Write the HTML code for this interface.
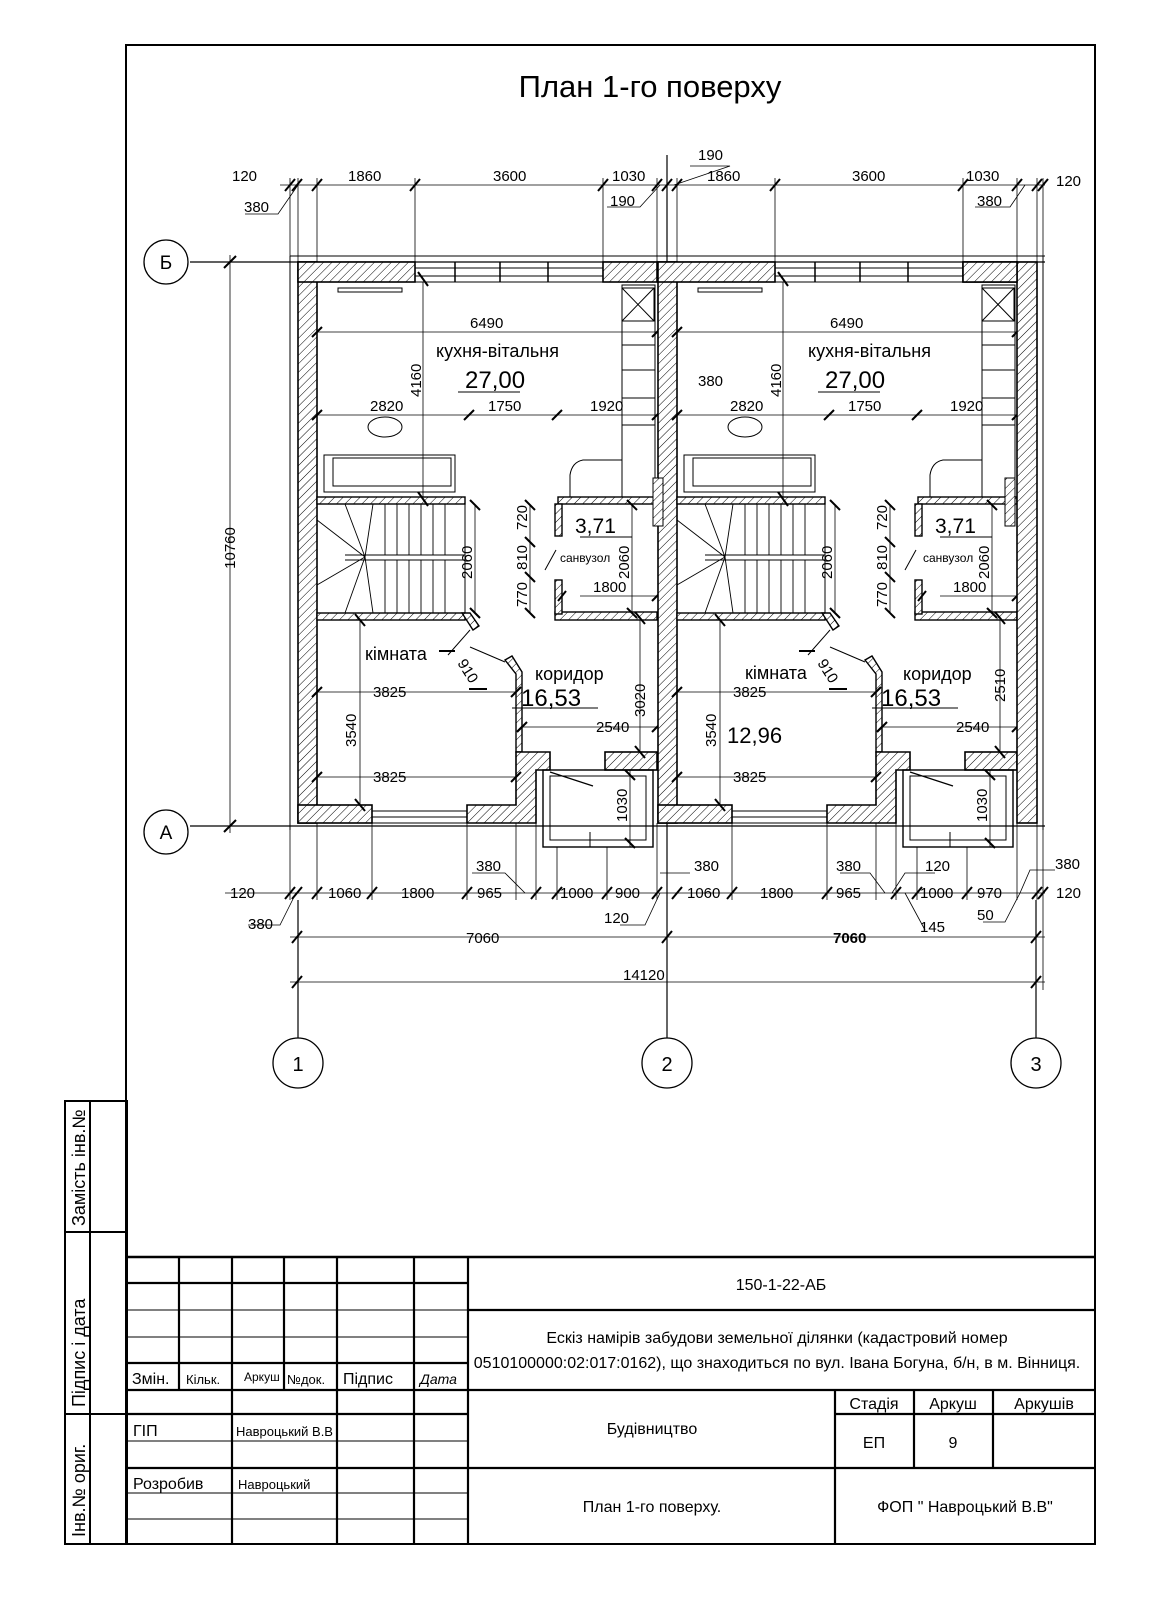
<!DOCTYPE html>
<html><head><meta charset="utf-8"><style>
html,body{margin:0;padding:0;background:#fff}
svg{display:block}
text{font-family:"Liberation Sans","DejaVu Sans",sans-serif;fill:#000}
</style></head><body>
<svg width="1160" height="1600" viewBox="0 0 1160 1600" xmlns="http://www.w3.org/2000/svg">
<defs>
<pattern id="h" patternUnits="userSpaceOnUse" width="6" height="6" patternTransform="rotate(45)">
<rect width="6" height="6" fill="#fff"/><line x1="0" y1="0" x2="0" y2="6" stroke="#000" stroke-width="1"/>
</pattern>
<g id="unit" stroke="#000" fill="none" stroke-width="1">
<rect x="298" y="262" width="19" height="561" fill="url(#h)" stroke-width="1.6"/>
<rect x="298" y="262" width="117" height="20" fill="url(#h)" stroke-width="1.6"/>
<rect x="603" y="262" width="54" height="20" fill="url(#h)" stroke-width="1.6"/>
<line x1="415" y1="268" x2="603" y2="268"/><line x1="415" y1="276" x2="603" y2="276"/><line x1="415" y1="282" x2="603" y2="282"/>
<line x1="455" y1="262" x2="455" y2="282" stroke-width="1.5"/><line x1="500" y1="262" x2="500" y2="282" stroke-width="1.5"/><line x1="548" y1="262" x2="548" y2="282" stroke-width="1.5"/>
<rect x="317" y="497" width="148" height="7" fill="url(#h)" stroke-width="1.4"/>
<rect x="558" y="497" width="99" height="7" fill="url(#h)" stroke-width="1.4"/>
<rect x="317" y="613" width="148" height="7" fill="url(#h)" stroke-width="1.4"/>
<rect x="555" y="612" width="102" height="8" fill="url(#h)" stroke-width="1.4"/>
<rect x="555" y="504" width="7" height="32" fill="url(#h)" stroke-width="1.4"/>
<rect x="555" y="580" width="7" height="34" fill="url(#h)" stroke-width="1.4"/>
<rect x="317" y="504" width="148" height="109"/>
<line x1="345" y1="560" x2="465" y2="560"/>
<line x1="345" y1="555" x2="465" y2="555"/>
<g stroke-width="0.9">
<line x1="385" y1="504" x2="385" y2="555"/><line x1="397" y1="504" x2="397" y2="555"/><line x1="409" y1="504" x2="409" y2="555"/><line x1="421" y1="504" x2="421" y2="555"/><line x1="433" y1="504" x2="433" y2="555"/><line x1="445" y1="504" x2="445" y2="555"/>
<line x1="385" y1="560" x2="385" y2="613"/><line x1="397" y1="560" x2="397" y2="613"/><line x1="409" y1="560" x2="409" y2="613"/><line x1="421" y1="560" x2="421" y2="613"/><line x1="433" y1="560" x2="433" y2="613"/><line x1="445" y1="560" x2="445" y2="613"/>
<line x1="365" y1="557" x2="317" y2="520"/><line x1="365" y1="557" x2="345" y2="504"/><line x1="365" y1="557" x2="373" y2="504"/><line x1="365" y1="557" x2="317" y2="585"/><line x1="365" y1="557" x2="345" y2="613"/><line x1="365" y1="557" x2="373" y2="613"/>
</g>
<polygon points="462,613 470,613 479,626 473,630" fill="url(#h)" stroke-width="1.4"/>
<line x1="470" y1="630" x2="448" y2="655"/>
<polygon points="505,660 512,656 522,672 522,752 516,752 516,674" fill="url(#h)" stroke-width="1.4"/>
<line x1="470" y1="647" x2="505" y2="662"/>
<rect x="298" y="805" width="74" height="18" fill="url(#h)" stroke-width="1.6"/>
<line x1="372" y1="811" x2="467" y2="811"/><line x1="372" y1="817" x2="467" y2="817"/><line x1="372" y1="823" x2="467" y2="823"/>
<polygon points="467,805 516,805 516,752 550,752 550,770 536,770 536,823 467,823" fill="url(#h)" stroke-width="1.6"/>
<rect x="605" y="752" width="52" height="18" fill="url(#h)" stroke-width="1.6"/>
<rect x="543" y="770" width="110" height="77" stroke-width="1.4"/>
<rect x="550" y="776" width="96" height="64"/>
<line x1="550" y1="772" x2="593" y2="786" stroke-width="1.2"/>
<line x1="590" y1="832" x2="590" y2="847"/>
<rect x="338" y="288" width="64" height="4"/>
<ellipse cx="385" cy="427" rx="17" ry="10"/>
<rect x="324" y="455" width="131" height="37"/><rect x="333" y="458" width="118" height="28"/>
<rect x="622" y="285" width="33" height="212"/>
<rect x="622" y="288" width="32" height="33"/><line x1="622" y1="288" x2="654" y2="321"/><line x1="654" y1="288" x2="622" y2="321"/>
<line x1="622" y1="345" x2="655" y2="345"/><line x1="622" y1="370" x2="655" y2="370"/><line x1="622" y1="398" x2="655" y2="398"/><line x1="622" y1="425" x2="655" y2="425"/>
<path d="M622,460 L583,460 Q572,462 570,475 L570,497"/>
<line x1="556" y1="550" x2="545" y2="570"/>
<g stroke-width="0.8">
<line x1="317" y1="332" x2="657" y2="332"/>
<line x1="317" y1="415" x2="657" y2="415"/>
<line x1="423" y1="282" x2="423" y2="497"/>
<line x1="317" y1="692" x2="516" y2="692"/>
<line x1="317" y1="777" x2="516" y2="777"/>
<line x1="360" y1="620" x2="360" y2="805"/>
<line x1="522" y1="727" x2="657" y2="727"/>
<line x1="640" y1="620" x2="640" y2="752"/>
<line x1="580" y1="596" x2="657" y2="596"/>
<line x1="530" y1="504" x2="530" y2="612"/>
<line x1="475" y1="504" x2="475" y2="612"/>
<line x1="632" y1="504" x2="632" y2="612"/>
<line x1="630" y1="770" x2="630" y2="847"/>
</g>
<g stroke-width="2">
<line x1="312" y1="337" x2="322" y2="327"/><line x1="652" y1="337" x2="662" y2="327"/>
<line x1="312" y1="420" x2="322" y2="410"/><line x1="464" y1="420" x2="474" y2="410"/><line x1="552" y1="420" x2="562" y2="410"/><line x1="652" y1="420" x2="662" y2="410"/>
<line x1="418" y1="272" x2="428" y2="286"/><line x1="418" y1="492" x2="428" y2="506"/>
<line x1="312" y1="697" x2="322" y2="687"/><line x1="511" y1="697" x2="521" y2="687"/>
<line x1="312" y1="782" x2="322" y2="772"/><line x1="511" y1="782" x2="521" y2="772"/>
<line x1="355" y1="614" x2="365" y2="626"/><line x1="355" y1="799" x2="365" y2="811"/>
<line x1="517" y1="732" x2="527" y2="722"/><line x1="652" y1="732" x2="662" y2="722"/>
<line x1="635" y1="612" x2="645" y2="624"/><line x1="635" y1="746" x2="645" y2="758"/>
<line x1="525" y1="500" x2="535" y2="510"/><line x1="525" y1="537" x2="535" y2="547"/><line x1="525" y1="572" x2="535" y2="582"/><line x1="525" y1="608" x2="535" y2="618"/>
<line x1="470" y1="500" x2="480" y2="510"/><line x1="470" y1="608" x2="480" y2="618"/>
<line x1="627" y1="500" x2="637" y2="510"/><line x1="627" y1="608" x2="637" y2="618"/>
<line x1="558" y1="601" x2="566" y2="591"/><line x1="652" y1="601" x2="662" y2="591"/>
<line x1="625" y1="770" x2="635" y2="780"/><line x1="625" y1="838" x2="635" y2="848"/>
<line x1="439" y1="651" x2="455" y2="651"/><line x1="469" y1="689" x2="487" y2="689"/>
</g>
<line x1="458" y1="392" x2="520" y2="392"/>
<line x1="580" y1="537" x2="632" y2="537"/>
<line x1="512" y1="708" x2="598" y2="708"/>
</g>
</defs>

<rect x="126" y="45" width="969" height="1499" fill="none" stroke="#000" stroke-width="2"/>
<text x="650" y="97" font-size="31" text-anchor="middle">План 1-го поверху</text>

<g stroke="#000" fill="none">
<line x1="190" y1="262" x2="1045" y2="262" stroke-width="1.3"/>
<line x1="190" y1="826" x2="1045" y2="826" stroke-width="1.3"/>
<circle cx="166" cy="262" r="22" fill="#fff" stroke-width="1.3"/>
<circle cx="166" cy="832" r="22" fill="#fff" stroke-width="1.3"/>
<line x1="230" y1="255" x2="230" y2="833" stroke-width="0.8"/>
<line x1="224" y1="268" x2="236" y2="256" stroke-width="2"/><line x1="224" y1="832" x2="236" y2="820" stroke-width="2"/>
<line x1="298" y1="900" x2="298" y2="1038" stroke-width="1.2"/>
<line x1="667" y1="155" x2="667" y2="1038" stroke-width="1.2"/>
<line x1="1036" y1="900" x2="1036" y2="1038" stroke-width="1.2"/>
<circle cx="298" cy="1063" r="25" stroke-width="1.3"/>
<circle cx="667" cy="1063" r="25" stroke-width="1.3"/>
<circle cx="1036" cy="1063" r="25" stroke-width="1.3"/>
</g>
<text x="166" y="269" font-size="19" text-anchor="middle">Б</text>
<text x="166" y="839" font-size="19" text-anchor="middle">А</text>
<text x="298" y="1071" font-size="20" text-anchor="middle">1</text>
<text x="667" y="1071" font-size="20" text-anchor="middle">2</text>
<text x="1036" y="1071" font-size="20" text-anchor="middle">3</text>
<text transform="translate(235,548) rotate(-90)" font-size="15" text-anchor="middle">10760</text>

<use href="#unit"/>
<use href="#unit" transform="translate(360,0)"/>
<rect x="1017" y="262" width="20" height="561" fill="url(#h)" stroke="#000" stroke-width="1.6"/>
<rect x="963" y="262" width="54" height="20" fill="url(#h)" stroke="#000" stroke-width="1.6"/>
<rect x="1005" y="478" width="10" height="48" fill="url(#h)" stroke="#000"/>
<rect x="653" y="478" width="10" height="48" fill="url(#h)" stroke="#000"/>
<line x1="290" y1="256" x2="1045" y2="256" stroke="#000" stroke-width="1"/>
<line x1="290" y1="256" x2="290" y2="830" stroke="#000" stroke-width="1"/>
<line x1="1043" y1="256" x2="1043" y2="830" stroke="#000" stroke-width="1"/>

<g stroke="#000" fill="none">
<line x1="280" y1="185" x2="1045" y2="185" stroke-width="0.8"/>
<g stroke-width="0.8">
<line x1="290" y1="178" x2="290" y2="256"/><line x1="298" y1="178" x2="298" y2="262"/><line x1="317" y1="178" x2="317" y2="262"/><line x1="415" y1="178" x2="415" y2="262"/><line x1="603" y1="178" x2="603" y2="262"/><line x1="657" y1="178" x2="657" y2="262"/><line x1="677" y1="178" x2="677" y2="262"/><line x1="775" y1="178" x2="775" y2="262"/><line x1="963" y1="178" x2="963" y2="262"/><line x1="1017" y1="178" x2="1017" y2="262"/><line x1="1037" y1="178" x2="1037" y2="262"/><line x1="1043" y1="178" x2="1043" y2="256"/>
</g>
<g stroke-width="2">
<line x1="285" y1="191" x2="295" y2="179"/><line x1="292" y1="191" x2="302" y2="179"/><line x1="312" y1="191" x2="322" y2="179"/><line x1="410" y1="191" x2="420" y2="179"/><line x1="598" y1="191" x2="608" y2="179"/><line x1="652" y1="191" x2="662" y2="179"/><line x1="662" y1="191" x2="672" y2="179"/><line x1="672" y1="191" x2="682" y2="179"/><line x1="770" y1="191" x2="780" y2="179"/><line x1="958" y1="191" x2="968" y2="179"/><line x1="1012" y1="191" x2="1022" y2="179"/><line x1="1032" y1="191" x2="1042" y2="179"/><line x1="1038" y1="191" x2="1048" y2="179"/>
</g>
<polyline points="245,214 278,214 298,185" stroke-width="0.8"/>
<polyline points="607,207 640,207 660,185" stroke-width="0.8"/>
<polyline points="690,166 730,166 674,185" stroke-width="0.8"/>
<polyline points="975,207 1010,207 1025,185" stroke-width="0.8"/>
</g>
<g font-size="15">
<text x="232" y="181">120</text><text x="244" y="212">380</text>
<text x="348" y="181">1860</text><text x="493" y="181">3600</text><text x="612" y="181">1030</text>
<text x="610" y="206">190</text><text x="698" y="160">190</text>
<text x="707" y="181">1860</text><text x="852" y="181">3600</text><text x="966" y="181">1030</text>
<text x="977" y="206">380</text><text x="1056" y="186">120</text>
</g>

<g font-size="15">
<text x="470" y="328">6490</text><text x="830" y="328">6490</text>
<text x="370" y="411">2820</text><text x="730" y="411">2820</text>
<text x="488" y="411">1750</text><text x="848" y="411">1750</text>
<text x="590" y="411">1920</text><text x="950" y="411">1920</text>
<text transform="translate(421,397) rotate(-90)">4160</text><text transform="translate(781,397) rotate(-90)">4160</text>
<text x="698" y="386">380</text>
<text transform="translate(527,530) rotate(-90)">720</text><text transform="translate(887,530) rotate(-90)">720</text>
<text transform="translate(527,570) rotate(-90)">810</text><text transform="translate(887,570) rotate(-90)">810</text>
<text transform="translate(527,607) rotate(-90)">770</text><text transform="translate(887,607) rotate(-90)">770</text>
<text transform="translate(472,579) rotate(-90)">2060</text><text transform="translate(832,579) rotate(-90)">2060</text>
<text transform="translate(629,579) rotate(-90)">2060</text><text transform="translate(989,579) rotate(-90)">2060</text>
<text x="593" y="592">1800</text><text x="953" y="592">1800</text>
<text x="373" y="697">3825</text><text x="733" y="697">3825</text>
<text x="373" y="782">3825</text><text x="733" y="782">3825</text>
<text x="596" y="732">2540</text><text x="956" y="732">2540</text>
<text transform="translate(356,747) rotate(-90)">3540</text><text transform="translate(716,747) rotate(-90)">3540</text>
<text transform="translate(645,717) rotate(-90)">3020</text><text transform="translate(1005,702) rotate(-90)">2510</text>
<text transform="translate(627,822) rotate(-90)">1030</text><text transform="translate(987,822) rotate(-90)">1030</text>
<text transform="translate(457,663) rotate(58)">910</text><text transform="translate(817,663) rotate(58)">910</text>
</g>
<g font-size="18">
<text x="436" y="357">кухня-вітальня</text><text x="808" y="357">кухня-вітальня</text>
<text x="365" y="660">кімната</text><text x="745" y="679">кімната</text>
<text x="535" y="680">коридор</text><text x="903" y="680">коридор</text>
</g>
<g font-size="24">
<text x="465" y="388">27,00</text><text x="825" y="388">27,00</text>
<text x="521" y="706">16,53</text><text x="881" y="706">16,53</text>
<text x="727" y="743" font-size="22">12,96</text>
</g>
<text x="575" y="533" font-size="21">3,71</text><text x="935" y="533" font-size="21">3,71</text>
<text x="560" y="562" font-size="12">санвузол</text><text x="923" y="562" font-size="12">санвузол</text>

<g stroke="#000" fill="none">
<line x1="225" y1="893" x2="1045" y2="893" stroke-width="0.8"/>
<line x1="290" y1="937" x2="1045" y2="937" stroke-width="0.8"/>
<line x1="290" y1="982" x2="1045" y2="982" stroke-width="0.8"/>
<g stroke-width="0.8">
<line x1="290" y1="830" x2="290" y2="900"/><line x1="317" y1="823" x2="317" y2="900"/><line x1="372" y1="823" x2="372" y2="900"/><line x1="467" y1="823" x2="467" y2="900"/><line x1="516" y1="823" x2="516" y2="900"/><line x1="536" y1="823" x2="536" y2="900"/><line x1="557" y1="847" x2="557" y2="900"/><line x1="607" y1="847" x2="607" y2="900"/><line x1="657" y1="823" x2="657" y2="900"/>
<line x1="732" y1="823" x2="732" y2="900"/><line x1="827" y1="823" x2="827" y2="900"/><line x1="876" y1="823" x2="876" y2="900"/><line x1="896" y1="823" x2="896" y2="900"/><line x1="917" y1="847" x2="917" y2="900"/><line x1="967" y1="847" x2="967" y2="900"/><line x1="1017" y1="823" x2="1017" y2="900"/><line x1="1037" y1="823" x2="1037" y2="900"/><line x1="1043" y1="830" x2="1043" y2="990"/>
</g>
<g stroke-width="2">
<line x1="285" y1="899" x2="295" y2="887"/><line x1="292" y1="899" x2="302" y2="887"/><line x1="312" y1="899" x2="322" y2="887"/><line x1="367" y1="899" x2="377" y2="887"/><line x1="462" y1="899" x2="472" y2="887"/><line x1="531" y1="899" x2="541" y2="887"/><line x1="552" y1="899" x2="562" y2="887"/><line x1="602" y1="899" x2="612" y2="887"/><line x1="652" y1="899" x2="662" y2="887"/><line x1="672" y1="899" x2="682" y2="887"/><line x1="727" y1="899" x2="737" y2="887"/><line x1="822" y1="899" x2="832" y2="887"/><line x1="891" y1="899" x2="901" y2="887"/><line x1="912" y1="899" x2="922" y2="887"/><line x1="962" y1="899" x2="972" y2="887"/><line x1="1032" y1="899" x2="1042" y2="887"/><line x1="1038" y1="899" x2="1048" y2="887"/>
<line x1="292" y1="943" x2="302" y2="931"/><line x1="662" y1="943" x2="672" y2="931"/><line x1="1031" y1="943" x2="1041" y2="931"/>
<line x1="292" y1="988" x2="302" y2="976"/><line x1="1031" y1="988" x2="1041" y2="976"/>
</g>
<polyline points="248,925 280,925 296,893" stroke-width="0.8"/>
<polyline points="472,873 505,873 525,893" stroke-width="0.8"/>
<polyline points="620,925 645,925 660,893" stroke-width="0.8"/>
<polyline points="690,873 660,873" stroke-width="0.8"/>
<polyline points="840,873 870,873 885,893" stroke-width="0.8"/>
<polyline points="935,873 905,873 892,893" stroke-width="0.8"/>
<polyline points="925,930 905,893" stroke-width="0.8"/>
<polyline points="983,922 1005,922 1020,893" stroke-width="0.8"/>
<polyline points="1055,870 1030,870 1020,893" stroke-width="0.8"/>
</g>
<g font-size="15">
<text x="230" y="898">120</text><text x="248" y="929">380</text>
<text x="328" y="898">1060</text><text x="401" y="898">1800</text><text x="477" y="898">965</text>
<text x="476" y="871">380</text><text x="560" y="898">1000</text><text x="615" y="898">900</text>
<text x="604" y="923">120</text>
<text x="687" y="898">1060</text><text x="760" y="898">1800</text><text x="836" y="898">965</text>
<text x="694" y="871">380</text><text x="836" y="871">380</text><text x="925" y="871">120</text>
<text x="920" y="898">1000</text><text x="920" y="932">145</text><text x="977" y="898">970</text>
<text x="977" y="920">50</text><text x="1055" y="869">380</text><text x="1056" y="898">120</text>
<text x="466" y="943">7060</text><text x="833" y="943" font-weight="bold">7060</text>
<text x="623" y="980">14120</text>
</g>

<g stroke="#000" stroke-width="2" fill="none">
<rect x="65" y="1101" width="62" height="443"/>
<line x1="90" y1="1101" x2="90" y2="1544"/>
<line x1="65" y1="1232" x2="127" y2="1232"/>
<line x1="65" y1="1414" x2="127" y2="1414"/>
</g>
<text transform="translate(85,1226) rotate(-90)" font-size="18">Замість інв.№</text>
<text transform="translate(85,1407) rotate(-90)" font-size="18">Підпис і дата</text>
<text transform="translate(85,1537) rotate(-90)" font-size="18">Інв.№ ориг.</text>

<g stroke="#000" fill="none">
<line x1="127" y1="1257" x2="1095" y2="1257" stroke-width="2.5"/>
<g stroke-width="2.2">
<line x1="127" y1="1283" x2="468" y2="1283"/><line x1="127" y1="1363" x2="468" y2="1363"/><line x1="127" y1="1390" x2="1095" y2="1390"/><line x1="127" y1="1414" x2="468" y2="1414"/><line x1="127" y1="1468" x2="1095" y2="1468"/>
<line x1="468" y1="1310" x2="1095" y2="1310"/>
<line x1="835" y1="1414" x2="1095" y2="1414"/>
</g>
<g stroke-width="1">
<line x1="127" y1="1310" x2="468" y2="1310"/><line x1="127" y1="1337" x2="468" y2="1337"/><line x1="127" y1="1441" x2="468" y2="1441"/><line x1="127" y1="1493" x2="468" y2="1493"/><line x1="127" y1="1519" x2="468" y2="1519"/>
</g>
<g stroke-width="2.2">
<line x1="179" y1="1257" x2="179" y2="1390"/><line x1="232" y1="1257" x2="232" y2="1544"/><line x1="284" y1="1257" x2="284" y2="1390"/><line x1="337" y1="1257" x2="337" y2="1544"/><line x1="414" y1="1257" x2="414" y2="1544"/><line x1="468" y1="1257" x2="468" y2="1544"/>
<line x1="835" y1="1390" x2="835" y2="1544"/><line x1="914" y1="1390" x2="914" y2="1468"/><line x1="993" y1="1390" x2="993" y2="1468"/>
</g>
</g>
<g font-size="16">
<text x="132" y="1384">Змін.</text><text x="186" y="1384" font-size="13">Кільк.</text><text x="244" y="1381" font-size="12">Аркуш</text><text x="287" y="1384" font-size="13">№док.</text><text x="343" y="1384">Підпис</text><text x="420" y="1384" font-size="14" font-style="italic">Дата</text>
<text x="133" y="1436">ГІП</text><text x="236" y="1436" font-size="13">Навроцький В.В</text>
<text x="133" y="1489">Розробив</text><text x="238" y="1489" font-size="13">Навроцький</text>
<text x="781" y="1290" text-anchor="middle">150-1-22-АБ</text>
<text x="777" y="1343" text-anchor="middle">Ескіз намірів забудови земельної ділянки (кадастровий номер</text>
<text x="777" y="1368" text-anchor="middle">0510100000:02:017:0162), що знаходиться по вул. Івана Богуна, б/н, в м.  Вінниця.</text>
<text x="652" y="1434" text-anchor="middle">Будівництво</text>
<text x="652" y="1512" text-anchor="middle">План 1-го поверху.</text>
<text x="874" y="1409" text-anchor="middle">Стадія</text><text x="953" y="1409" text-anchor="middle">Аркуш</text><text x="1044" y="1409" text-anchor="middle">Аркушів</text>
<text x="874" y="1448" text-anchor="middle">ЕП</text><text x="953" y="1448" text-anchor="middle">9</text>
<text x="965" y="1512" text-anchor="middle">ФОП " Навроцький В.В"</text>
</g>
</svg>
</body></html>
